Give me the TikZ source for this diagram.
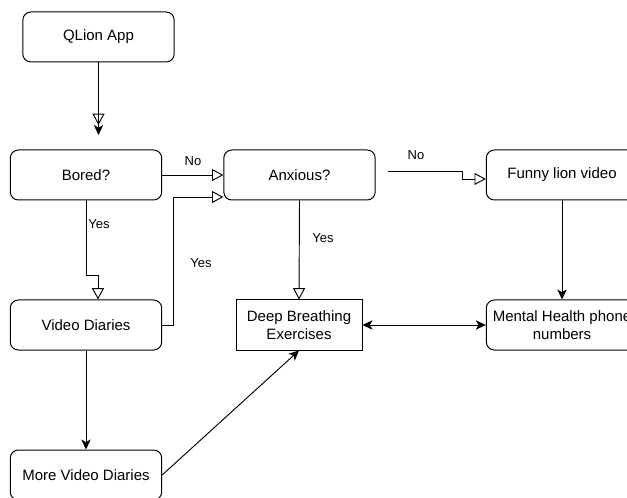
\documentclass[tikz,border=0pt]{standalone}
\usepackage{fontspec}
\setmainfont{Liberation Sans}
\usetikzlibrary{arrows.meta, calc, positioning}

\begin{document}
\begin{tikzpicture}[
  x=0.75pt, y=-0.75pt,
  stepbox/.style={
    rectangle, rounded corners=6pt, draw=black, line width=0.75pt,
    minimum width=113.5pt, minimum height=37.5pt, inner sep=0pt,
    align=center, font=\fontsize{11.25}{13.5}\selectfont
  },
  plainbox/.style={
    stepbox, rounded corners=0pt, minimum width=94.5pt
  },
  openarrow/.style={
    -{Triangle[open, length=8.5pt, width=9pt]}, draw=black, line width=0.7pt
  },
  solidarrow/.style={
    -{Stealth[length=7.5pt, width=7pt, inset=2pt]}, draw=black, line width=0.7pt
  },
  botharrow/.style={
    {Stealth[length=7.5pt, width=7pt, inset=2pt]}-{Stealth[length=7.5pt, width=7pt, inset=2pt]},
    draw=black, line width=0.7pt
  },
  lbl/.style={font=\fontsize{9.75}{11}\selectfont, inner sep=0pt}
]
\useasboundingbox (0,0) rectangle (627,498);

% ============================================================
% Boxes
% ============================================================
\node[stepbox] (app)    at (98.5, 37)  {QLion App};
\node[stepbox] (bored)  at (86, 175)   {Bored?};
\node[stepbox] (anx)    at (299.5, 175) {Anxious?};
\node[stepbox] (funny)  at (562, 175)  {Funny lion video};
\node[stepbox] (vid)    at (86, 325)   {Video Diaries};
\node[plainbox] (deep)  at (299, 325)  {Deep Breathing\\Exercises};
\node[stepbox] (mental) at (562, 325)  {Mental Health phone\\numbers};
\node[stepbox] (more)   at (86, 475)   {More Video Diaries};

% ============================================================
% Connectors
% ============================================================
\coordinate (append) at (98.5, 135);
\draw[draw=black, line width=0.7pt,
      -{Triangle[open, length=8.5pt, width=9pt] Stealth[length=7.5pt, width=7pt, inset=2pt]}]
  (app.south) -- (append);

% Bored? -> Anxious? (No)
\draw[openarrow] (bored.east) -- (anx.west);
\node[lbl] (nobored) at (193, 161) {No};

% Bored? -> Video Diaries (Yes)
\draw[openarrow] (bored.south) -- ++(0,75) -| ($(vid.north)+(12,0)$);
\node[lbl] (yesbored) at (99, 224) {Yes};

% Video Diaries -> Anxious? (Yes)
\draw[openarrow] (vid.east) -- ++(11,0) |- ($(anx.west)+(0,22)$);
\node[lbl] (yesvid) at (201, 263) {Yes};

% Anxious? -> Deep Breathing (Yes)
\draw[openarrow] (anx.south) -- (deep.north);
\node[lbl] (yesanx) at (323, 238) {Yes};

% Anxious? -> Funny lion video (No)
\draw[openarrow] ($(anx.east)+(12,-4)$) -- ++(75,0) |- ($(funny.west)+(0,4)$);
\node[lbl] (noanx) at (416, 155) {No};

% solid arrows
\draw[solidarrow] (funny.south) -- (mental.north);
\draw[botharrow] (deep.east) -- (mental.west);
\draw[solidarrow] (vid.south) -- (more.north);
\draw[solidarrow] (more.east) -- (deep.south);

\end{tikzpicture}
\end{document}
